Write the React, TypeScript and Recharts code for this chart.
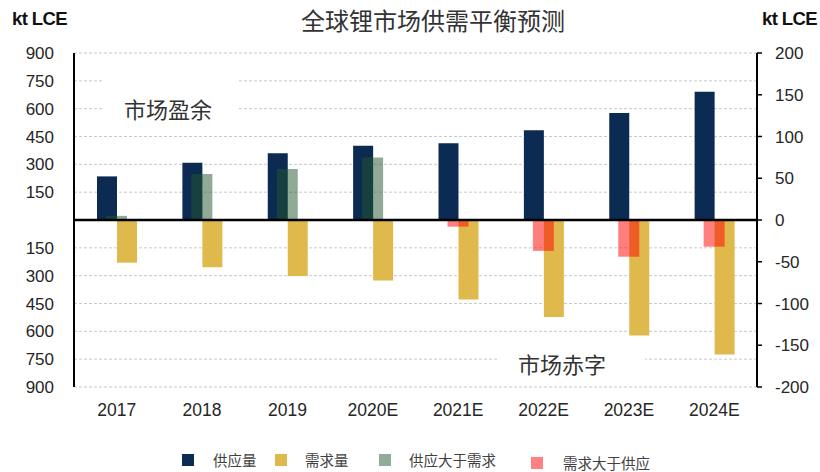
import React from 'react';
import { ComposedChart, Bar, XAxis, YAxis, CartesianGrid, ReferenceLine } from 'recharts';

const years = ['2017', '2018', '2019', '2020E', '2021E', '2022E', '2023E', '2024E'];
const supply = [235, 309, 360, 400, 414, 484, 576, 691];
const demand = [-230, -255, -302, -326, -428, -523, -622, -725];
const surplus = [5, 55, 61, 75, null, null, null, null];
const deficit = [null, null, null, null, -8, -37, -44, -32];
const leftTicks = [-900, -750, -600, -450, -300, -150, 0, 150, 300, 450, 600, 750, 900];
const rightTicks = [-200, -150, -100, -50, 0, 50, 100, 150, 200];

const data = years.map((y, i) => ({
  year: y,
  supply: supply[i],
  demand: demand[i],
  surplus: surplus[i],
  deficit: deficit[i],
}));

const LATIN = '"Liberation Sans", Arial, sans-serif';
const CJK = '"Noto Sans CJK SC", "Liberation Sans", sans-serif';

const C_SUPPLY = '#0c2b52';
const C_DEMAND = '#e0b94c';
const C_SURPLUS = '#21552d';
const C_DEFICIT = '#ff0000';

const legendItems = [
  { label: '供应量', color: C_SUPPLY, sx: 182, tx: 213, y: 460 },
  { label: '需求量', color: C_DEMAND, sx: 275, tx: 305, y: 460 },
  { label: '供应大于需求', color: '#90ab97', sx: 379, tx: 409, y: 460 },
  { label: '需求大于供应', color: '#ff8080', sx: 531, tx: 563, y: 463 },
];

export default function App() {
  return (
    <div style={{ position: 'absolute', left: 0, top: 0, width: 820, height: 472, background: '#fff', overflow: 'hidden' }}>
      <ComposedChart
        width={820}
        height={472}
        data={data}
        margin={{ top: 53, right: 0, bottom: 45, left: 0 }}
        barGap={0}
      >
        <CartesianGrid
          xAxisId="a"
          yAxisId="left"
          vertical={false}
          stroke="#c9c9c9"
          strokeDasharray="3 2"
        />
        <XAxis
          xAxisId="a"
          dataKey="year"
          axisLine={false}
          tickLine={false}
          tickSize={6}
          tickMargin={11}
          height={40}
          tick={{ fill: '#262626', fontSize: 17.5, fontFamily: LATIN }}
        />
        <XAxis xAxisId="b" dataKey="year" hide />
        <YAxis
          yAxisId="left"
          orientation="left"
          width={74}
          domain={[-900, 900]}
          ticks={leftTicks}
          interval={0}
          tickFormatter={(v: number) => (v === 0 ? '' : String(Math.abs(v)))}
          axisLine={{ stroke: '#000', strokeWidth: 2 }}
          tickLine={false}
          tickSize={6}
          tickMargin={14}
          tick={{ fill: '#262626', fontSize: 17, fontFamily: LATIN }}
        />
        <YAxis
          yAxisId="right"
          orientation="right"
          width={63}
          domain={[-200, 200]}
          ticks={rightTicks}
          interval={0}
          axisLine={{ stroke: '#000', strokeWidth: 2 }}
          tickLine={{ stroke: '#000', strokeWidth: 1.5 }}
          tickSize={5}
          tickMargin={13}
          tick={{ fill: '#262626', fontSize: 17, fontFamily: LATIN, textAnchor: 'start' }}
        />
        <Bar xAxisId="a" yAxisId="left" dataKey="supply" fill={C_SUPPLY} barSize={20} isAnimationActive={false} />
        <Bar xAxisId="a" yAxisId="left" dataKey="demand" fill={C_DEMAND} barSize={20} isAnimationActive={false} />
        <Bar xAxisId="b" yAxisId="right" dataKey="surplus" stackId="bal" fill={C_SURPLUS} fillOpacity={0.5} barSize={21} isAnimationActive={false} />
        <Bar xAxisId="b" yAxisId="right" dataKey="deficit" stackId="bal" fill={C_DEFICIT} fillOpacity={0.5} barSize={21} isAnimationActive={false} />
        <ReferenceLine xAxisId="a" yAxisId="left" y={0} stroke="#000" strokeWidth={2.5} />
      </ComposedChart>

      <div style={{ position: 'absolute', left: 12, top: 8, fontFamily: LATIN, fontWeight: 'bold', fontSize: 18.5, color: '#111', letterSpacing: -0.6 }}>kt LCE</div>
      <div style={{ position: 'absolute', left: 762, top: 8, fontFamily: LATIN, fontWeight: 'bold', fontSize: 18.5, color: '#111', letterSpacing: -0.6, whiteSpace: 'nowrap' }}>kt LCE</div>
      <div style={{ position: 'absolute', left: 0, width: 866, top: 4, textAlign: 'center', fontFamily: CJK, fontSize: 24, color: '#333', lineHeight: '32px' }}>全球锂市场供需平衡预测</div>

      <div style={{ position: 'absolute', left: 103, top: 72, width: 134, height: 48, background: '#fff' }} />
      <div style={{ position: 'absolute', left: 124, top: 92, fontFamily: CJK, fontSize: 22, color: '#333', lineHeight: '32px' }}>市场盈余</div>

      <div style={{ position: 'absolute', left: 497, top: 349, width: 148, height: 30, background: '#fff' }} />
      <div style={{ position: 'absolute', left: 518, top: 347, fontFamily: CJK, fontSize: 22, color: '#333', lineHeight: '32px' }}>市场赤字</div>

      {legendItems.map((it) => (
        <React.Fragment key={it.label}>
          <div style={{ position: 'absolute', left: it.sx, top: it.y - 6, width: 12, height: 12, background: it.color }} />
          <div style={{ position: 'absolute', left: it.tx, top: it.y - 8, fontFamily: CJK, fontSize: 14.5, color: '#404040', lineHeight: '16px', whiteSpace: 'nowrap' }}>{it.label}</div>
        </React.Fragment>
      ))}
    </div>
  );
}
